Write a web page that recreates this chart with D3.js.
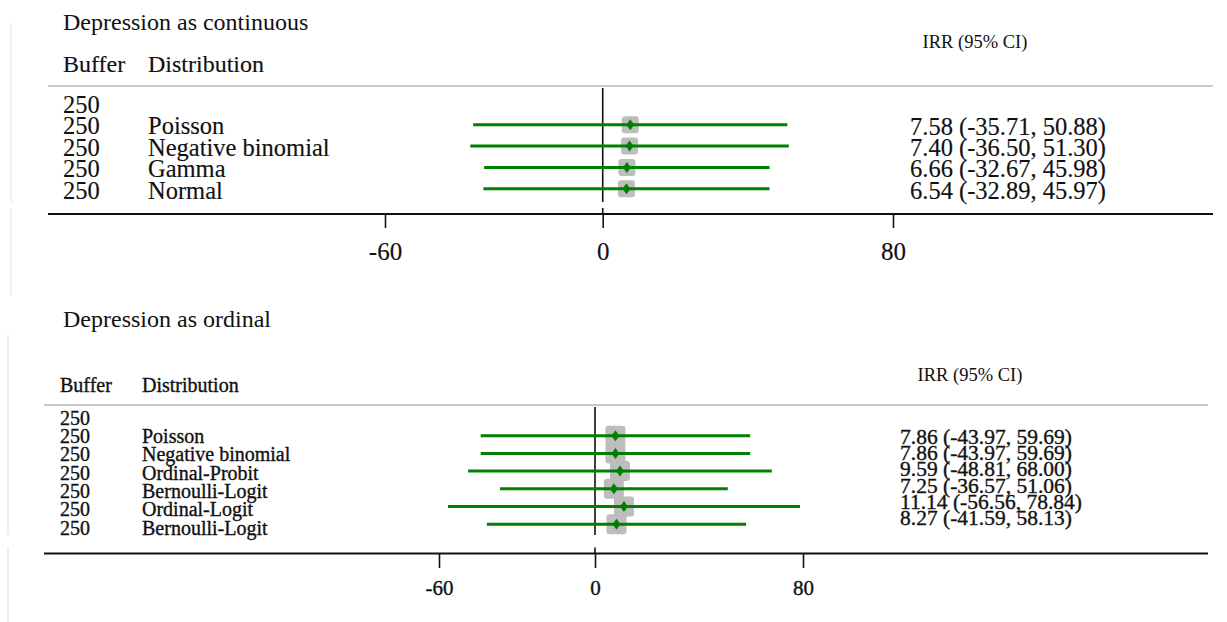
<!DOCTYPE html>
<html>
<head>
<meta charset="utf-8">
<script src="https://cdn.jsdelivr.net/npm/d3@7/dist/d3.min.js"></script>
<style>
  html, body { margin: 0; padding: 0; background: #fff; }
  svg { display: block; }
  text { font-family: "Liberation Serif", "Times New Roman", serif; fill: #111; }
</style>
</head>
<body>
<svg id="chart" width="1227" height="622"></svg>
<script>
// ---------- data ----------
const titleTop = "Depression as continuous";
const bufferTop = ["250", "250", "250", "250", "250"];
const distTop = ["", "Poisson", "Negative binomial", "Gamma", "Normal"];
const estTop = [null, 7.58, 7.40, 6.66, 6.54];
const loTop = [null, -35.71, -36.50, -32.67, -32.89];
const hiTop = [null, 50.88, 51.30, 45.98, 45.97];

const titleBot = "Depression as ordinal";
const bufferBot = ["250", "250", "250", "250", "250", "250", "250"];
const distBot = ["", "Poisson", "Negative binomial", "Ordinal-Probit", "Bernoulli-Logit", "Ordinal-Logit", "Bernoulli-Logit"];
const estBot = [null, 7.86, 7.86, 9.59, 7.25, 11.14, 8.27];
const loBot = [null, -43.97, -43.97, -48.81, -36.57, -56.56, -41.59];
const hiBot = [null, 59.69, 59.69, 68.00, 51.06, 78.84, 58.13];

const tickValues = [-60, 0, 80];
const colHeaders = ["Buffer", "Distribution", "IRR (95% CI)"];

// ---------- drawing ----------
const svg = d3.select("#chart");
const loc = d3.formatLocale({ decimal: ".", thousands: ",", grouping: [3], currency: ["", ""], minus: "-" });
const fmt = loc.format(".2f");
const fmtTick = loc.format("d");

function panel(cfg) {
  const g = svg.append("g");
  const x = d3.scaleLinear().domain([-60, 80]).range(cfg.xRange);
  const n = cfg.buffer.length;
  const rowY = d3.scaleLinear().domain([0, n - 1]).range(cfg.rowRange);
  const txtY = d3.scaleLinear().domain([0, n - 1]).range(cfg.txtRange);
  const ciY = d3.scaleLinear().domain([1, n - 1]).range(cfg.ciRange);

  // faint left border artifacts
  cfg.faint.forEach(s => {
    g.append("line").attr("x1", cfg.faintX).attr("x2", cfg.faintX)
      .attr("y1", s[0]).attr("y2", s[1])
      .attr("stroke", "#e9f1f1").attr("stroke-width", 2);
  });

  // title
  g.append("text").attr("x", 63).attr("y", cfg.titleY)
    .style("font-size", "24px").text(cfg.title);

  // headers
  g.append("text").attr("x", cfg.col1).attr("y", cfg.headY)
    .style("font-size", cfg.headFs + "px").attr("class", cfg.cls).text(colHeaders[0]);
  g.append("text").attr("x", cfg.col2).attr("y", cfg.headY)
    .style("font-size", cfg.headFs + "px").attr("class", cfg.cls).text(colHeaders[1]);
  g.append("text").attr("x", cfg.irrX).attr("y", cfg.irrY)
    .attr("text-anchor", "middle").style("font-size", "18.5px").text(colHeaders[2]);

  // gray rule
  g.append("line").attr("x1", cfg.lineX0).attr("x2", cfg.lineX1)
    .attr("y1", cfg.grayY).attr("y2", cfg.grayY)
    .attr("stroke", "#c9c9c9").attr("stroke-width", 2);

  // zero line
  g.append("line").attr("x1", x(0)).attr("x2", x(0))
    .attr("y1", cfg.grayY + 2).attr("y2", cfg.zeroEnd)
    .attr("stroke", "#111").attr("stroke-width", 1.6);

  // left text rows
  const rows = d3.range(n);
  g.selectAll(".buf").data(rows).join("text")
    .attr("x", cfg.col1).attr("y", i => txtY(i) + cfg.baseOff)
    .style("font-size", cfg.rowFs + "px").attr("class", cfg.cls)
    .text(i => cfg.buffer[i]);
  g.selectAll(".dist").data(rows).join("text")
    .attr("x", cfg.col2).attr("y", i => txtY(i) + cfg.baseOff)
    .style("font-size", cfg.rowFs + "px").attr("class", cfg.cls)
    .text(i => cfg.dist[i]);

  const dataRows = rows.filter(i => cfg.est[i] != null);

  // boxes
  g.selectAll(".box").data(dataRows).join("rect")
    .attr("x", i => x(cfg.est[i]) - cfg.box / 2)
    .attr("y", i => rowY(i) - cfg.box / 2)
    .attr("width", cfg.box).attr("height", cfg.box)
    .attr("rx", 3).attr("fill", "#bdbdbd");

  // CI lines
  g.selectAll(".ci").data(dataRows).join("line")
    .attr("x1", i => x(cfg.lo[i])).attr("x2", i => x(cfg.hi[i]))
    .attr("y1", i => rowY(i)).attr("y2", i => rowY(i))
    .attr("stroke", "#008000").attr("stroke-width", 3);

  // diamonds
  g.selectAll(".dia").data(dataRows).join("path")
    .attr("d", i => {
      const cx = x(cfg.est[i]), cy = rowY(i);
      return `M${cx},${cy - 5.5}L${cx + 4},${cy}L${cx},${cy + 5.5}L${cx - 4},${cy}Z`;
    })
    .attr("fill", "#008000");

  // CI text
  g.selectAll(".cit").data(dataRows).join("text")
    .attr("x", cfg.ciX).attr("y", i => ciY(i) + cfg.ciBase)
    .style("font-size", cfg.ciFs + "px").attr("class", cfg.cls)
    .text(i => `${fmt(cfg.est[i])} (${fmt(cfg.lo[i])}, ${fmt(cfg.hi[i])})`);

  // axis line
  g.append("line").attr("x1", cfg.lineX0).attr("x2", cfg.lineX1)
    .attr("y1", cfg.axisY).attr("y2", cfg.axisY)
    .attr("stroke", "#111").attr("stroke-width", 2);

  // ticks via d3 axis
  const axis = d3.axisBottom(x).tickValues(tickValues).tickFormat(fmtTick)
    .tickSize(cfg.tickLen).tickPadding(cfg.tickPad);
  const ag = g.append("g").attr("transform", `translate(0,${cfg.axisY})`).call(axis);
  ag.select(".domain").remove();
  ag.selectAll(".tick line").attr("stroke", "#111").attr("stroke-width", 1.6);
  ag.selectAll(".tick text")
    .style("font-family", '"Liberation Serif", "Times New Roman", serif')
    .style("font-size", cfg.tickFs + "px").attr("fill", "#111").attr("class", cfg.cls);
  // zero tick extends above axis
  g.append("line").attr("x1", x(0)).attr("x2", x(0))
    .attr("y1", cfg.axisY - 6).attr("y2", cfg.axisY)
    .attr("stroke", "#111").attr("stroke-width", 1.6);
}

panel({
  title: titleTop, buffer: bufferTop, dist: distTop, est: estTop, lo: loTop, hi: hiTop,
  xRange: [385, 893], rowRange: [103.5, 188.7], txtRange: [104, 190.5], ciRange: [126.5, 190],
  faint: [[23, 202], [208, 295]], faintX: 11,
  titleY: 30, headY: 72, headFs: 24, col1: 63, col2: 148, irrX: 975, irrY: 48,
  grayY: 86, lineX0: 48, lineX1: 1213, zeroEnd: 202,
  rowFs: 24.5, baseOff: 8.5, box: 17,
  ciX: 910, ciBase: 8.5, ciFs: 24.5,
  axisY: 214, tickLen: 14, tickPad: 14, tickFs: 25, cls: "top"
});

panel({
  title: titleBot, buffer: bufferBot, dist: distBot, est: estBot, lo: loBot, hi: hiBot,
  xRange: [439, 803], rowRange: [418, 524.2], txtRange: [418.3, 528.3], ciRange: [437, 518],
  faint: [[335, 535], [547, 622]], faintX: 8,
  titleY: 327, headY: 392, headFs: 20, col1: 60, col2: 142, irrX: 970, irrY: 381,
  grayY: 405, lineX0: 44, lineX1: 1208, zeroEnd: 535,
  rowFs: 20, baseOff: 6.5, box: 20,
  ciX: 900, ciBase: 7, ciFs: 21.5,
  axisY: 553.5, tickLen: 14.5, tickPad: 12, tickFs: 21, cls: "bot"
});

d3.selectAll("text.bot").attr("stroke", "#111").attr("stroke-width", 0.35);
d3.selectAll("text.top").attr("stroke", "#111").attr("stroke-width", 0.15);
</script>
</body>
</html>
